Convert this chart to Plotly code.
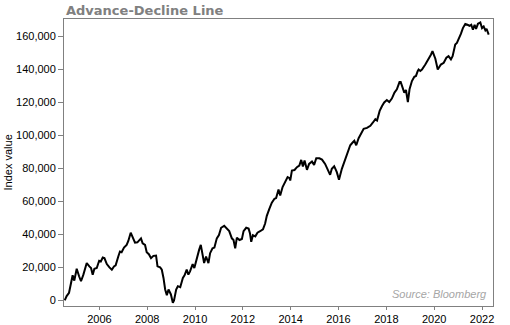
import plotly.graph_objects as go
from datetime import datetime, timedelta

# Advance-decline line, sampled at fractional years
years = [
    2004.55, 2004.63, 2004.73, 2004.81, 2004.88, 2004.95, 2005.05, 2005.15, 2005.23, 2005.33,
    2005.47, 2005.58, 2005.65, 2005.72, 2005.79, 2005.89, 2005.99, 2006.06, 2006.14, 2006.21,
    2006.31, 2006.42, 2006.52, 2006.61, 2006.68, 2006.79, 2006.86, 2006.93, 2007.03, 2007.14,
    2007.21, 2007.31, 2007.39, 2007.49, 2007.59, 2007.67, 2007.74, 2007.81, 2007.91, 2007.98,
    2008.07, 2008.16, 2008.26, 2008.37, 2008.43, 2008.54, 2008.61, 2008.68, 2008.75, 2008.82,
    2008.89, 2008.99, 2009.07, 2009.12, 2009.21, 2009.28, 2009.38, 2009.49, 2009.56, 2009.65,
    2009.72, 2009.79, 2009.90, 2009.97, 2010.07, 2010.17, 2010.24, 2010.31, 2010.38, 2010.46,
    2010.56, 2010.63, 2010.73, 2010.81, 2010.91, 2011.00, 2011.09, 2011.22, 2011.33, 2011.43,
    2011.54, 2011.61, 2011.68, 2011.75, 2011.86, 2011.96, 2012.03, 2012.14, 2012.24, 2012.30,
    2012.35, 2012.42, 2012.52, 2012.61, 2012.72, 2012.84, 2012.93, 2013.00, 2013.11, 2013.21,
    2013.32, 2013.39, 2013.49, 2013.56, 2013.66, 2013.77, 2013.87, 2013.95, 2013.98, 2014.05,
    2014.16, 2014.26, 2014.36, 2014.44, 2014.51, 2014.58, 2014.68, 2014.77, 2014.89, 2014.98,
    2015.07, 2015.20, 2015.31, 2015.44, 2015.54, 2015.65, 2015.72, 2015.82, 2015.93, 2016.02,
    2016.14, 2016.28, 2016.42, 2016.49, 2016.60, 2016.66, 2016.74, 2016.84, 2016.94, 2017.05,
    2017.19, 2017.33, 2017.44, 2017.54, 2017.61, 2017.72, 2017.82, 2017.91, 2018.02, 2018.12,
    2018.23, 2018.34, 2018.44, 2018.55, 2018.60, 2018.69, 2018.75, 2018.82, 2018.90, 2018.97,
    2019.07, 2019.17, 2019.24, 2019.31, 2019.35, 2019.42, 2019.49, 2019.63, 2019.77, 2019.87,
    2019.93, 2020.05, 2020.15, 2020.28, 2020.40, 2020.51, 2020.60, 2020.70, 2020.77, 2020.88,
    2020.95, 2021.02, 2021.12, 2021.20, 2021.30, 2021.39, 2021.48, 2021.55, 2021.62, 2021.69,
    2021.75, 2021.83, 2021.93, 2022.00, 2022.07, 2022.14, 2022.19, 2022.28,
]
index_values = [
    0, 2600, 4600, 10600, 15200, 12000, 19200, 14600, 11600, 15600,
    22600, 20600, 19600, 15600, 19200, 19600, 24000, 23600, 26000, 25600,
    22000, 20000, 18600, 20600, 21200, 26600, 29600, 29200, 32000, 33600,
    36000, 41000, 38600, 35000, 35200, 36600, 37600, 34600, 33600, 29200,
    28000, 25600, 27000, 27200, 20600, 20000, 18600, 13600, 6600, 3200,
    6600, 3600, -1400, 0, 6600, 8600, 8000, 13600, 15200, 18600,
    15600, 17600, 22000, 19600, 25600, 30600, 33600, 28600, 22600, 26600,
    22600, 28600, 31600, 32000, 37600, 39600, 44000, 45200, 43600, 42000,
    37600, 36600, 31600, 38000, 36600, 37200, 42000, 44000, 43500, 40500,
    35500, 39500, 38800, 41000, 41900, 43100, 46600, 51200, 55600, 59200,
    61600, 62000, 67200, 63600, 68700, 71700, 74700, 74100, 72600, 78700,
    79000, 80700, 81700, 85100, 81100, 84700, 79100, 82700, 84100, 82100,
    86100, 86100, 85300, 82700, 79700, 76100, 79700, 81300, 77700, 73100,
    79700, 86000, 91300, 94000, 95800, 96700, 94000, 98300, 101000, 104000,
    104500, 105800, 107800, 109800, 109000, 114800, 117800, 119900, 121400, 120200,
    122300, 125900, 127900, 132300, 132300, 128900, 125900, 127500, 120200, 127900,
    132900, 135500, 136000, 138900, 139900, 139000, 139900, 142900, 146000, 149000,
    151000, 146400, 139900, 142900, 144000, 147000, 148000, 146000, 148000, 155000,
    156000, 158000, 161600, 165000, 167500, 167000, 166400, 167000, 164000, 167000,
    164500, 167600, 168400, 165000, 166000, 163600, 164500, 161000,
]

tick_years = [2006, 2008, 2010, 2012, 2014, 2016, 2018, 2020, 2022]
y_ticks = [0, 20000, 40000, 60000, 80000, 100000, 120000, 140000, 160000]


def to_date(y):
    base = datetime(int(y), 1, 1)
    span = datetime(int(y) + 1, 1, 1) - base
    return base + timedelta(seconds=(y - int(y)) * span.total_seconds())


dates = [to_date(y) for y in years]

fig = go.Figure(
    go.Scatter(
        x=dates, y=index_values, mode="lines",
        line=dict(color="black", width=2),
        hoverinfo="skip",
    )
)

W, H = 510, 325
axis_font = dict(family="Liberation Sans, Arial, sans-serif", size=11, color="black")
fig.update_layout(
    width=W, height=H,
    margin=dict(l=64, r=17, t=19, b=19),
    paper_bgcolor="white", plot_bgcolor="white",
    showlegend=False,
    title=dict(
        text="<b>Advance-Decline Line</b>",
        font=dict(family="DejaVu Sans, Verdana, sans-serif", size=13, color="#808080"),
        x=66 / W, xanchor="left", xref="container",
        y=1 - 10 / H, yanchor="middle", yref="container",
    ),
    xaxis=dict(
        range=[to_date(2004.52), to_date(2022.46)],
        tickvals=[datetime(y, 1, 1) for y in tick_years],
        ticktext=[str(y) for y in tick_years],
        ticks="outside", ticklen=3, tickcolor="#808080",
        showline=True, linecolor="#808080", linewidth=1, mirror=True,
        showgrid=False, zeroline=False, automargin=False,
        tickfont=axis_font,
    ),
    yaxis=dict(
        range=[-3400, 170500],
        tickvals=y_ticks,
        ticktext=[f"{v:,}" for v in y_ticks],
        ticks="outside", ticklen=5, tickcolor="#808080",
        showline=True, linecolor="#808080", linewidth=1, mirror=True,
        showgrid=False, zeroline=False, automargin=False,
        tickfont=axis_font,
    ),
    annotations=[
        dict(
            text="Index value", textangle=-90,
            xref="paper", yref="paper", x=-57 / (W - 64 - 17), y=0.5,
            xanchor="center", yanchor="middle", showarrow=False,
            font=axis_font,
        ),
        dict(
            text="<i>Source: Bloomberg</i>",
            xref="paper", yref="paper", x=0.99, y=0.015,
            xanchor="right", yanchor="bottom", showarrow=False,
            font=dict(family="Liberation Sans, Arial, sans-serif", size=11, color="#a6a6a6"),
        ),
    ],
)

fig.write_html("out.html")
